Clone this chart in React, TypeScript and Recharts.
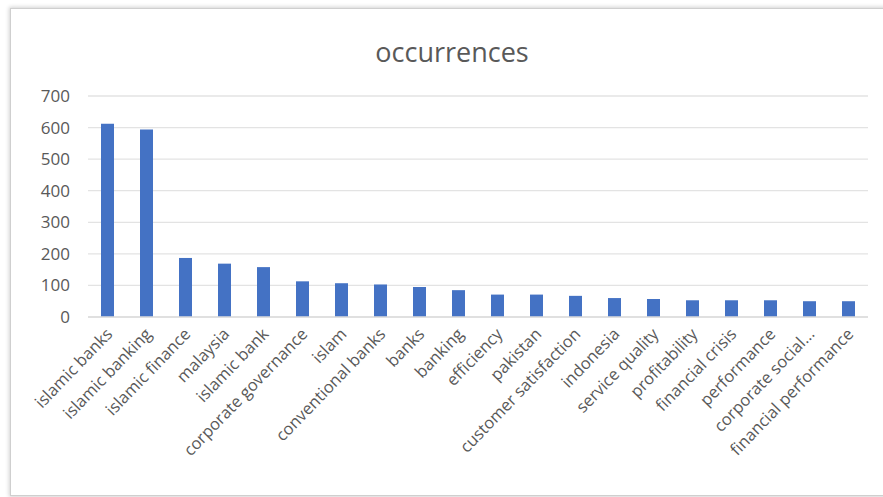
import React from "react";
import { BarChart, Bar, XAxis, YAxis, CartesianGrid } from "recharts";

const categories = [
  "islamic banks",
  "islamic banking",
  "islamic finance",
  "malaysia",
  "islamic bank",
  "corporate governance",
  "islam",
  "conventional banks",
  "banks",
  "banking",
  "efficiency",
  "pakistan",
  "customer satisfaction",
  "indonesia",
  "service quality",
  "profitability",
  "financial crisis",
  "performance",
  "corporate social...",
  "financial performance",
];

const occurrences = [612, 594, 187, 169, 158, 113, 107, 103, 95, 85, 71, 71, 67, 60, 57, 53, 53, 53, 50, 50];

const yTicks = [0, 100, 200, 300, 400, 500, 600, 700];

const data = categories.map((name, i) => ({ name, occurrences: occurrences[i] }));

const FONT = "'Open Sans', 'Noto Sans', sans-serif";
const GRAY = "#595959";

const AngledTick = (props: any) => {
  const { x, y, payload } = props;
  const ax = x + 6;
  const ay = y + 10;
  return (
    <text
      x={ax}
      y={ay}
      transform={`rotate(-46, ${ax}, ${ay})`}
      textAnchor="end"
      fill={GRAY}
      fontSize={16.5}
      fontFamily={FONT}
    >
      {payload.value}
    </text>
  );
};

export default function App() {
  return (
    <div style={{ position: "absolute", left: 0, top: 0, width: 883, height: 497, overflow: "hidden", background: "#fff" }}>
      <div
        style={{
          position: "absolute",
          left: 10,
          top: 8,
          width: 900,
          height: 486,
          border: "1px solid #cfcfcf",
          boxShadow: "0 0 4px 1px rgba(0,0,0,0.18)",
          background: "#fff",
        }}
      />
      <div
        style={{
          position: "absolute",
          left: 0,
          width: 904,
          top: 34,
          textAlign: "center",
          fontFamily: FONT,
          fontSize: 27,
          lineHeight: "36px",
          color: GRAY,
        }}
      >
        occurrences
      </div>
      <div style={{ position: "absolute", left: 0, top: 0 }}>
        <BarChart
          width={883}
          height={497}
          data={data}
          margin={{ top: 96, right: 15, left: 0, bottom: 10 }}
          barCategoryGap={0}
        >
          <CartesianGrid vertical={false} stroke="#e3e3e3" strokeWidth={1.3} />
          <XAxis
            dataKey="name"
            interval={0}
            height={170}
            tickLine={false}
            axisLine={{ stroke: "#dcdcdc", strokeWidth: 1.3 }}
            tick={<AngledTick />}
          />
          <YAxis
            width={88}
            domain={[0, 700]}
            ticks={yTicks}
            tickLine={false}
            axisLine={false}
            tickMargin={12}
            tick={{ fill: GRAY, fontSize: 17, fontFamily: FONT }}
          />
          <Bar dataKey="occurrences" fill="#4472C4" barSize={13} isAnimationActive={false} />
        </BarChart>
      </div>
    </div>
  );
}
